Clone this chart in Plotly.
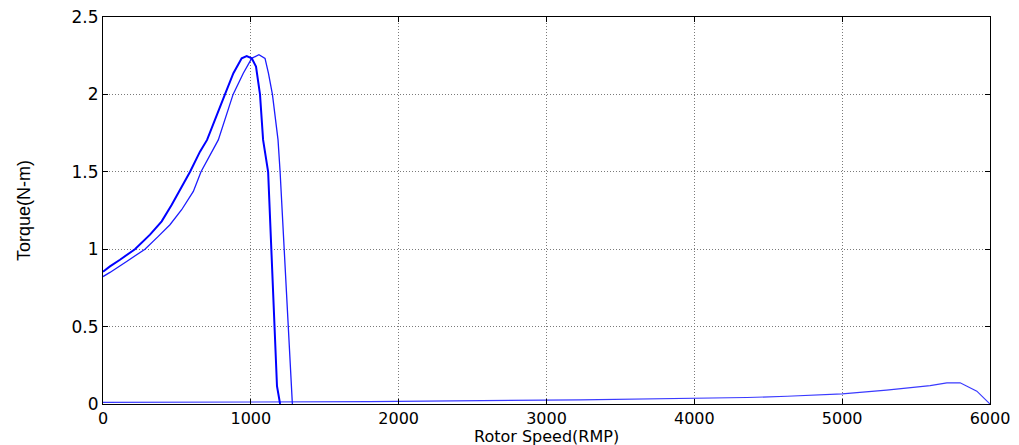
import plotly.graph_objects as go

# Torque-speed curves read per series
speed_a = [0, 47, 115, 216, 318, 397, 465, 532, 589, 656, 704, 825, 882, 938, 972,
           1006, 1035, 1062, 1083, 1117, 1137, 1157, 1177, 1198]
torque_a = [0.855, 0.889, 0.932, 1.0, 1.094, 1.18, 1.287, 1.405, 1.5, 1.63, 1.706, 2.0, 2.137, 2.233, 2.248,
            2.233, 2.18, 2.0, 1.706, 1.5, 1.0, 0.5, 0.115, 0.0]

speed_b = [0, 47, 160, 284, 374, 453, 532, 611, 663, 780, 880, 949, 1006, 1055,
           1096, 1119, 1146, 1184, 1198, 1225, 1252, 1272, 1281]
torque_b = [0.823, 0.85, 0.921, 1.0, 1.083, 1.158, 1.255, 1.373, 1.5, 1.706, 2.0, 2.137, 2.233, 2.257,
            2.233, 2.137, 2.0, 1.706, 1.5, 1.0, 0.5, 0.115, 0.0]

speed_c = [0, 1800, 3227, 3924, 4357, 4628, 4838, 5000, 5300, 5595, 5708, 5798, 5911, 5990, 6000]
torque_c = [0.01, 0.015, 0.027, 0.034, 0.042, 0.05, 0.059, 0.066, 0.09, 0.119, 0.137, 0.137, 0.083, 0.012, 0.0]

x_ticks = [0, 1000, 2000, 3000, 4000, 5000, 6000]
y_ticks = [0, 0.5, 1, 1.5, 2, 2.5]
y_tick_text = ["0", "0.5", "1", "1.5", "2", "2.5"]

fig = go.Figure()
fig.add_trace(go.Scatter(x=speed_c, y=torque_c, mode="lines",
                         line=dict(color="#3a3aff", width=1.2)))
fig.add_trace(go.Scatter(x=speed_b, y=torque_b, mode="lines",
                         line=dict(color="#1c1cff", width=1.3)))
fig.add_trace(go.Scatter(x=speed_a, y=torque_a, mode="lines",
                         line=dict(color="#0000ff", width=2)))

axis_common = dict(
    showline=True, linecolor="black", linewidth=1, mirror="ticks",
    ticks="inside", ticklen=5, tickcolor="black",
    showgrid=True, gridcolor="#7a7a7a", griddash="1px,2px", gridwidth=1,
    zeroline=False, automargin=False,
    tickfont=dict(family="DejaVu Sans", size=17, color="black"),
)

fig.update_layout(
    width=1019, height=445,
    margin=dict(l=103, r=29, t=17, b=41),
    paper_bgcolor="white", plot_bgcolor="white",
    showlegend=False,
    xaxis=dict(range=[0, 6000], tickvals=x_ticks, ticklabelstandoff=0,
               **{**axis_common, "tickfont": dict(family="DejaVu Sans", size=16, color="black")}),
    yaxis=dict(range=[0, 2.5], tickvals=y_ticks, ticktext=y_tick_text, **axis_common,
               title=dict(text="Torque(N-m)", standoff=36,
                          font=dict(family="Liberation Sans Narrow, Liberation Sans", size=18, color="black"))),
    annotations=[dict(text="Rotor Speed(RMP)", xref="paper", yref="paper",
                      x=0.5, y=-32 / 387, xanchor="center", yanchor="middle",
                      showarrow=False,
                      font=dict(family="DejaVu Sans", size=16, color="black"))],
)

fig.write_html("out.html")
